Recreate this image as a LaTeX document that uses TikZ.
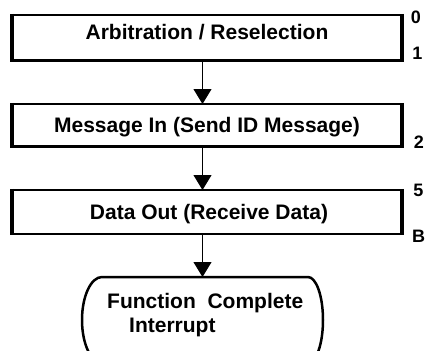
\documentclass[tikz,border=0pt]{standalone}
\usepackage{fontspec}
\setmainfont{Liberation Sans}
\usetikzlibrary{arrows.meta}
\begin{document}
\begin{tikzpicture}[x=1pt,y=1pt,
  box/.style={draw, line width=2.5pt, minimum width=390pt, inner sep=0pt, outer sep=0pt},
  side/.style={line width=4pt},
  txt/.style={font=\fontsize{21}{24}\selectfont\bfseries, anchor=base, inner sep=0pt},
  lbl/.style={font=\fontsize{18}{20}\selectfont\bfseries, inner sep=0pt},
  arr/.style={line width=1pt, -{Triangle[length=15pt,width=18pt]}}]
\useasboundingbox (0,0) rectangle (429,-351);
% boxes
\node[box, minimum height=45.5pt] (b1) at (207,-37.75) {};
\node[box, minimum height=42.5pt] (b2) at (207,-125.25) {};
\node[box, minimum height=44pt] (b3) at (207,-212) {};
\foreach \b in {b1,b2,b3}{
  \draw[side] ([yshift=1.25pt]\b.north west) -- ([yshift=-1.25pt]\b.south west);
  \draw[side] ([yshift=1.25pt]\b.north east) -- ([yshift=-1.25pt]\b.south east);
}
\node[txt] (t1) at (207,-39) {Arbitration / Reselection};
\node[txt] (t2) at (207,-132) {Message In (Send ID Message)};
\node[txt] (t3) at (209,-219.5) {Data Out (Receive Data)};
% terminal
\node[minimum width=241pt, minimum height=86pt, inner sep=0pt, outer sep=0pt] (end) at (202.5,-320) {};
\draw[line width=2.5pt] ([xshift=20pt]end.north west) -- ([xshift=-15pt]end.north east)
  arc[start angle=90, end angle=-90, x radius=15pt, y radius=43pt]
  -- ([xshift=20pt]end.south west)
  arc[start angle=270, end angle=90, x radius=20pt, y radius=43pt] -- cycle;
\node[txt, anchor=base west] (t4) at (107,-308) {Function\ \ Complete};
\node[txt, anchor=base west] (t5) at (129,-332) {Interrupt};
% arrows
\draw[arr] (b1.south -| end.north) -- (b2.north -| end.north);
\draw[arr] (b2.south -| end.north) -- (b3.north -| end.north);
\draw[arr] (b3.south -| end.north) -- (end.north);
% labels
\node[lbl] (l0) at (416,-17.5) {0};
\node[lbl] (l1) at (417.5,-53.5) {1};
\node[lbl] (l2) at (419,-142.5) {2};
\node[lbl] (l5) at (418.5,-190.5) {5};
\node[lbl] (lB) at (418.5,-236.5) {B};
\end{tikzpicture}
\end{document}
